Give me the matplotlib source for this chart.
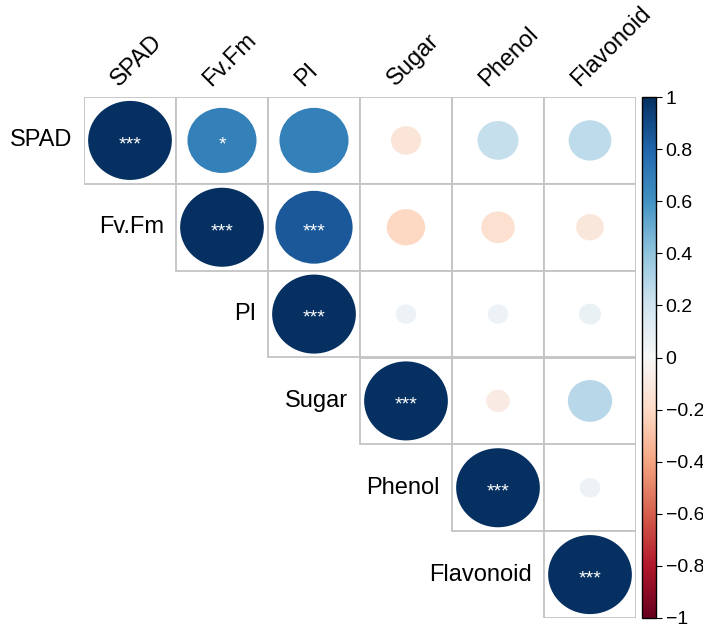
import matplotlib
matplotlib.use("Agg")
import matplotlib.pyplot as plt
from matplotlib.patches import Rectangle, Circle
import matplotlib.cm as cm
import matplotlib.colors as mcolors
import numpy as np

plt.rcParams['font.family'] = ['Liberation Sans', 'DejaVu Sans']

# variable names
names = ["SPAD", "Fv.Fm", "PI", "Sugar", "Phenol", "Flavonoid"]

# upper triangle correlations, one list per row (starting at the diagonal)
row_spad = [1.00, 0.68, 0.68, -0.13, 0.24, 0.26]
row_fvfm = [1.00, 0.85, -0.21, -0.16, -0.11]
row_pi = [1.00, 0.06, 0.06, 0.07]
row_sugar = [1.00, -0.08, 0.28]
row_phenol = [1.00, 0.06]
row_flav = [1.00]

# significance marks, same layout
sig_spad = ["***", "*", "", "", "", ""]
sig_fvfm = ["***", "***", "", "", ""]
sig_pi = ["***", "", "", ""]
sig_sugar = ["***", "", ""]
sig_phenol = ["***", ""]
sig_flav = ["***"]

rows = [row_spad, row_fvfm, row_pi, row_sugar, row_phenol, row_flav]
sigs = [sig_spad, sig_fvfm, sig_pi, sig_sugar, sig_phenol, sig_flav]

cbar_ticks = [1, 0.8, 0.6, 0.4, 0.2, 0, -0.2, -0.4, -0.6, -0.8, -1]

fig = plt.figure(figsize=(7.03, 6.28), dpi=100)
ax = fig.add_axes([84 / 703, 10 / 628, 552 / 703, 521 / 628])
cmap = plt.get_cmap("RdBu")
norm = mcolors.Normalize(vmin=-1, vmax=1)
n = len(names)

for i, vals in enumerate(rows):
    for k, r in enumerate(vals):
        j = i + k
        ax.add_patch(Rectangle((j, i), 1, 1, facecolor="white",
                               edgecolor="#c4c4c4", lw=1.3, zorder=1))
        rad = 0.455 * np.sqrt(abs(r))
        ax.add_patch(Circle((j + 0.5, i + 0.5), rad, facecolor=cmap(norm(r)),
                            edgecolor="none", zorder=2))
        if sigs[i][k]:
            ax.text(j + 0.5, i + 0.55, sigs[i][k], color="white", fontsize=14,
                    ha="center", va="center", zorder=3)
    # row label left of the diagonal cell
    ax.text(i - 0.13, i + 0.5, names[i], ha="right", va="center",
            fontsize=17, clip_on=False)

# column labels on top, rotated
for j, name in enumerate(names):
    ax.text(j + 0.42, -0.08, name, rotation=45, ha="left", va="bottom",
            rotation_mode="anchor", fontsize=17, clip_on=False)

ax.set_xlim(0, n)
ax.set_ylim(n, 0)
ax.set_aspect("auto")
ax.axis("off")

# colour legend
cax = fig.add_axes([642 / 703, 10 / 628, 14 / 703, 521 / 628])
sm = cm.ScalarMappable(norm=norm, cmap=cmap)
cb = fig.colorbar(sm, cax=cax, ticks=cbar_ticks)
cb.outline.set_edgecolor("black")
cb.outline.set_linewidth(1)
cb.ax.tick_params(length=4, width=0.8, labelsize=14, pad=3)
cb.ax.set_yticklabels([("%g" % t).replace("-", "\u2212") for t in cbar_ticks])

fig.savefig("out.png", dpi=100)
